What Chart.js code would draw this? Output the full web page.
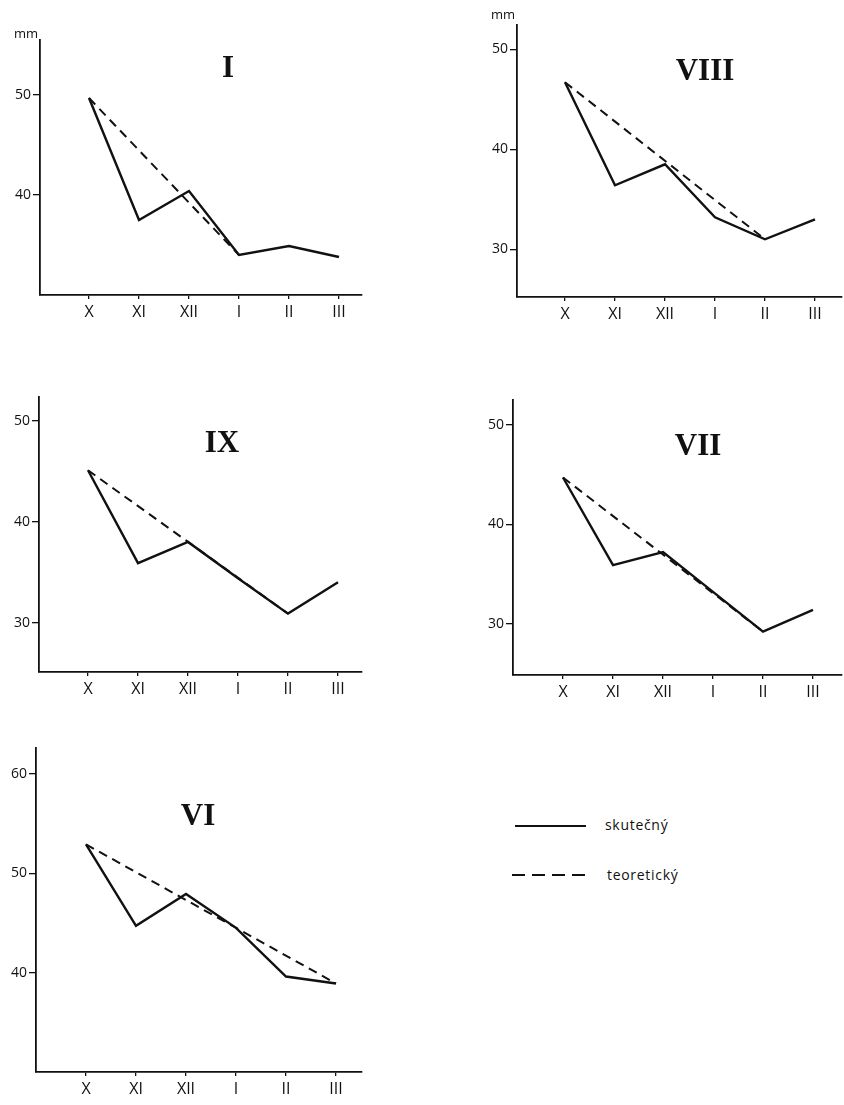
<!DOCTYPE html>
<html>
<head>
<meta charset="utf-8">
<script src="https://cdn.jsdelivr.net/npm/chart.js@4.4.1/dist/chart.umd.min.js"></script>
<style>
  html, body { margin: 0; padding: 0; background: #fff; }
  body { width: 844px; height: 1105px; position: relative; overflow: hidden; font-family: "Open Sans", sans-serif; color: #111; }
  canvas { position: absolute; }
  .title { position: absolute; font-family: "Liberation Serif", "DejaVu Serif", serif; font-weight: bold; font-size: 31px; line-height: 1; transform: translate(-50%, -50%); color: #111; }
  .unit { position: absolute; font-family: "Open Sans", sans-serif; font-size: 13px; line-height: 1; transform: translate(-50%, -50%); color: #111; }
  .leg { position: absolute; font-family: "Open Sans", sans-serif; font-size: 14px; letter-spacing: 0.7px; line-height: 1; transform: translateY(-55%); color: #111; }
  svg.legline { position: absolute; }
</style>
</head>
<body>
<script>
// ---- data ----
const months = ['X', 'XI', 'XII', 'I', 'II', 'III'];

const actualI    = [49.7, 37.5, 40.4, 34.0, 34.9, 33.8];
const theoryI    = [49.7, null, null, 34.0, null, null];

const actualVIII = [46.7, 36.4, 38.5, 33.2, 31.0, 33.0];
const theoryVIII = [46.7, null, null, null, 31.0, null];

const actualIX   = [45.1, 35.9, 38.0, 34.4, 30.9, 34.0];
const theoryIX   = [45.1, null, null, null, 30.9, null];

const actualVII  = [44.7, 35.9, 37.2, 33.2, 29.2, 31.4];
const theoryVII  = [44.7, null, null, null, 29.2, null];

const actualVI   = [52.9, 44.7, 47.9, 44.5, 39.6, 38.9];
const theoryVI   = [52.9, null, null, null, null, 38.9];

const ticksI    = [40, 50];
const ticks3050 = [30, 40, 50];
const ticksVI   = [40, 50, 60];

const legendLabels = ['skutečný', 'teoretický'];

// ---- helpers ----
const INK = '#111';
const Y_W = 40, X_H = 32, PAD_T = 4, PAD_R = 2;

function toPoints(arr) {
  const pts = [];
  arr.forEach((v, i) => { if (v !== null) pts.push({ x: i, y: v }); });
  return pts;
}

function addDiv(cls, text, x, y) {
  const d = document.createElement('div');
  d.className = cls;
  d.textContent = text;
  d.style.left = x + 'px';
  d.style.top = y + 'px';
  document.body.appendChild(d);
  return d;
}

function makePanel(p) {
  const c = document.createElement('canvas');
  const w = p.right - p.axisX + Y_W + PAD_R;
  const h = p.bottom - p.top + X_H + PAD_T;
  c.width = w; c.height = h;
  c.style.width = w + 'px'; c.style.height = h + 'px';
  c.style.left = (p.axisX - Y_W) + 'px';
  c.style.top = (p.top - PAD_T) + 'px';
  document.body.appendChild(c);

  new Chart(c, {
    type: 'line',
    data: {
      datasets: [
        { label: legendLabels[1], data: toPoints(p.theory), borderColor: INK, borderWidth: 2,
          borderDash: [9, 6], pointRadius: 0, tension: 0, fill: false },
        { label: legendLabels[0], data: toPoints(p.actual), borderColor: INK, borderWidth: 2.4,
          pointRadius: 0, tension: 0, fill: false }
      ]
    },
    options: {
      responsive: false,
      animation: false,
      layout: { padding: { top: PAD_T, right: PAD_R, left: 0, bottom: 0 } },
      plugins: { legend: { display: false }, tooltip: { enabled: false }, title: { display: false } },
      scales: {
        x: {
          type: 'linear', position: 'bottom', min: p.xMin, max: p.xMax,
          afterBuildTicks: s => { s.ticks = months.map((_, i) => ({ value: i })); },
          afterFit: s => { s.height = X_H; s.paddingLeft = 0; s.paddingRight = 0; },
          ticks: { autoSkip: false, maxRotation: 0, padding: 4, color: INK,
                   font: { family: 'Open Sans', size: 16 },
                   callback: v => months[v] ?? '' },
          grid: { display: true, drawOnChartArea: false, drawTicks: true, tickLength: 4, color: INK, lineWidth: 1.3 },
          border: { display: true, color: INK, width: 1.8 }
        },
        y: {
          type: 'linear', position: 'left', min: p.yMin, max: p.yMax,
          afterBuildTicks: s => { s.ticks = p.yTicks.map(v => ({ value: v })); },
          afterFit: s => { s.width = Y_W; s.paddingTop = 0; s.paddingBottom = 0; },
          ticks: { autoSkip: false, padding: 2, color: INK, font: { family: 'Open Sans', size: 14 } },
          grid: { display: true, drawOnChartArea: false, drawTicks: true, tickLength: 7, color: INK, lineWidth: 1.3 },
          border: { display: true, color: INK, width: 1.8 }
        }
      }
    }
  });

  addDiv('title', p.name, p.titleX, p.titleY);
  if (p.unit) addDiv('unit', 'mm', p.unit[0], p.unit[1]);
}

// ---- panels ----
makePanel({ name: 'I', axisX: 40, top: 40, bottom: 295, right: 362,
  xMin: -0.98, xMax: 5.46, yMin: 30.0, yMax: 55.5, yTicks: ticksI,
  actual: actualI, theory: theoryI, titleX: 228, titleY: 66, unit: [26, 33] });

makePanel({ name: 'VIII', axisX: 517, top: 25, bottom: 297, right: 842,
  xMin: -0.96, xMax: 5.54, yMin: 25.23, yMax: 52.43, yTicks: ticks3050,
  actual: actualVIII, theory: theoryVIII, titleX: 705, titleY: 69, unit: [503, 14] });

makePanel({ name: 'IX', axisX: 39, top: 397, bottom: 672, right: 362,
  xMin: -0.98, xMax: 5.48, yMin: 25.12, yMax: 52.35, yTicks: ticks3050,
  actual: actualIX, theory: theoryIX, titleX: 222, titleY: 441 });

makePanel({ name: 'VII', axisX: 513, top: 400, bottom: 675, right: 842,
  xMin: -1.0, xMax: 5.58, yMin: 24.85, yMax: 52.49, yTicks: ticks3050,
  actual: actualVII, theory: theoryVII, titleX: 698, titleY: 444 });

makePanel({ name: 'VI', axisX: 36, top: 748, bottom: 1072, right: 362,
  xMin: -1.0, xMax: 5.52, yMin: 29.99, yMax: 62.6, yTicks: ticksVI,
  actual: actualVI, theory: theoryVI, titleX: 198, titleY: 814 });

// ---- legend ----
function legendLine(x1, x2, y, dashed) {
  const ns = 'http://www.w3.org/2000/svg';
  const svg = document.createElementNS(ns, 'svg');
  svg.setAttribute('class', 'legline');
  svg.setAttribute('width', x2 - x1);
  svg.setAttribute('height', 6);
  svg.style.left = x1 + 'px';
  svg.style.top = (y - 3) + 'px';
  const ln = document.createElementNS(ns, 'line');
  ln.setAttribute('x1', 0); ln.setAttribute('y1', 3);
  ln.setAttribute('x2', x2 - x1); ln.setAttribute('y2', 3);
  ln.setAttribute('stroke', INK);
  ln.setAttribute('stroke-width', dashed ? 2 : 1.8);
  if (dashed) ln.setAttribute('stroke-dasharray', '13,7');
  svg.appendChild(ln);
  document.body.appendChild(svg);
}
legendLine(515, 586, 826, false);
addDiv('leg', legendLabels[0], 605, 826);
legendLine(512, 588, 875, true);
addDiv('leg', legendLabels[1], 607, 876);
</script>
</body>
</html>
